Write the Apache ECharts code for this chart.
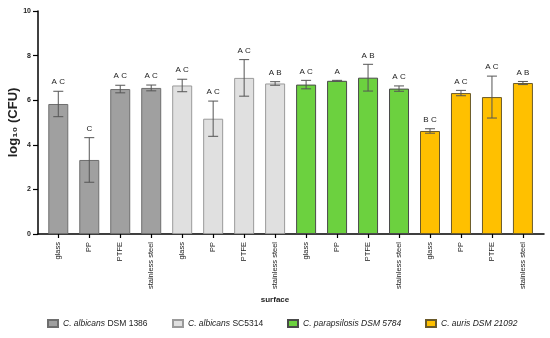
<!DOCTYPE html>
<html>
<head>
<meta charset="utf-8">
<script src="https://cdn.jsdelivr.net/npm/echarts@6/dist/echarts.min.js"></script>
<style>html,body{margin:0;padding:0;background:#fff}#c{width:550px;height:338px}</style>
</head>
<body>
<div id="c"></div>
<script>
// ---- data ----
const surfaces = ['glass','PP','PTFE','stainless steel','glass','PP','PTFE','stainless steel','glass','PP','PTFE','stainless steel','glass','PP','PTFE','stainless steel'];
const strains = ['C. albicans DSM 1386','C. albicans SC5314','C. parapsilosis DSM 5784','C. auris DSM 21092'];
const strainOf = [0,0,0,0,1,1,1,1,2,2,2,2,3,3,3,3];
const means = [5.83,3.32,6.50,6.55, 6.66,5.17,7.00,6.75, 6.70,6.87,7.01,6.52, 4.62,6.32,6.14,6.77];
const errors = [0.57,1.00,0.17,0.13, 0.28,0.79,0.82,0.08, 0.19,0.02,0.60,0.12, 0.10,0.12,0.94,0.07];
const letters = ['A C','C','A C','A C', 'A C','A C','A C','A B', 'A C','A','A B','A C', 'B C','A C','A C','A B'];
const yTicks = [0,2,4,6,8,10];

const fills = ['#a0a0a0','#e0e0e0','#6cd13f','#ffc000'];
const borders = ['#6e6e6e','#9a9a9a','#4a4a4a','#6a5a2a'];
const FONT = 'Liberation Sans, Arial, sans-serif';

const chart = echarts.init(document.getElementById('c'), null, {renderer:'canvas'});

const barSeries = strains.map((s, si) => ({
  name: s,
  type: 'bar',
  barWidth: 20,
  barGap: '-100%',
  itemStyle: {color: fills[si], borderColor: borders[si], borderWidth: 1},
  data: means.map((m, i) => strainOf[i] === si ? [i, m] : null).filter(d => d)
}));

const errSeries = {
  type: 'custom',
  z: 5,
  silent: true,
  data: means.map((m, i) => [i, m, errors[i]]),
  renderItem: function (params, api) {
    const x = api.value(0), m = api.value(1), e = api.value(2);
    const hi = api.coord([x, m + e]);
    const lo = api.coord([x, m - e]);
    const hw = 5;
    const st = {stroke: '#555', lineWidth: 1};
    return {
      type: 'group',
      children: [
        {type: 'line', shape: {x1: hi[0], y1: hi[1], x2: lo[0], y2: lo[1]}, style: st},
        {type: 'line', shape: {x1: hi[0] - hw, y1: hi[1], x2: hi[0] + hw, y2: hi[1]}, style: st},
        {type: 'line', shape: {x1: lo[0] - hw, y1: lo[1], x2: lo[0] + hw, y2: lo[1]}, style: st},
        {type: 'text', style: {text: letters[params.dataIndex], x: hi[0], y: hi[1] - 5,
          align: 'center', verticalAlign: 'bottom', fontSize: 8, fontFamily: FONT, fill: '#222'}}
      ]
    };
  }
};

const legendLefts = [47, 172, 287, 425];
const legends = strains.map((s, si) => ({
  data: [{name: s, icon: 'rect'}],
  left: legendLefts[si],
  top: 319,
  padding: 0,
  itemWidth: 10,
  itemHeight: 7,
  itemGap: 5,
  selectedMode: false,
  formatter: function (name) {
    if (si < 2) {
      const parts = name.split(' ');
      return '{i|' + parts[0] + ' ' + parts[1] + '} {n|' + parts.slice(2).join(' ') + '}';
    }
    return '{i|' + name + '}';
  },
  textStyle: {
    fontFamily: FONT, fontSize: 8.5, color: '#222',
    rich: {
      i: {fontStyle: 'italic', fontFamily: FONT, fontSize: 8.5, color: '#222'},
      n: {fontFamily: FONT, fontSize: 8.5, color: '#222'}
    }
  }
}));

chart.setOption({
  animation: false,
  backgroundColor: '#fff',
  grid: {left: 38, right: 6, top: 11, bottom: 104, containLabel: false, outerBoundsMode: 'none'},
  legend: legends,
  xAxis: {
    type: 'value',
    min: -0.655,
    max: 15.68,
    splitLine: {show: false},
    axisLine: {show: true, onZero: false, lineStyle: {color: '#000', width: 1.5}},
    axisTick: {show: true, customValues: surfaces.map((_, i) => i), length: 4, lineStyle: {color: '#000', width: 1.2}},
    axisLabel: {
      customValues: surfaces.map((_, i) => i),
      rotate: 90,
      margin: 8,
      fontSize: 7.5,
      fontFamily: FONT,
      color: '#222',
      formatter: v => surfaces[Math.round(v)]
    },
    name: 'surface',
    nameLocation: 'middle',
    nameGap: 62,
    nameMoveOverlap: false,
    nameTextStyle: {fontFamily: FONT, fontSize: 8, fontWeight: 'bold', color: '#222', padding: [0, 32, 0, 0]}
  },
  yAxis: {
    type: 'value',
    min: yTicks[0],
    max: yTicks[yTicks.length - 1],
    interval: 2,
    splitLine: {show: false},
    axisLine: {show: true, onZero: false, lineStyle: {color: '#000', width: 1.5}},
    axisTick: {show: true, length: 5, lineStyle: {color: '#000', width: 1.2}},
    axisLabel: {fontSize: 7, fontWeight: 'bold', fontFamily: FONT, color: '#222', margin: 7},
    name: 'log\u2081\u2080 (CFU)',
    nameLocation: 'middle',
    nameGap: 18,
    nameMoveOverlap: false,
    nameTextStyle: {fontFamily: FONT, fontSize: 13, fontWeight: 'bold', color: '#222'}
  },
  series: barSeries.concat([errSeries])
});
</script>
</body>
</html>
